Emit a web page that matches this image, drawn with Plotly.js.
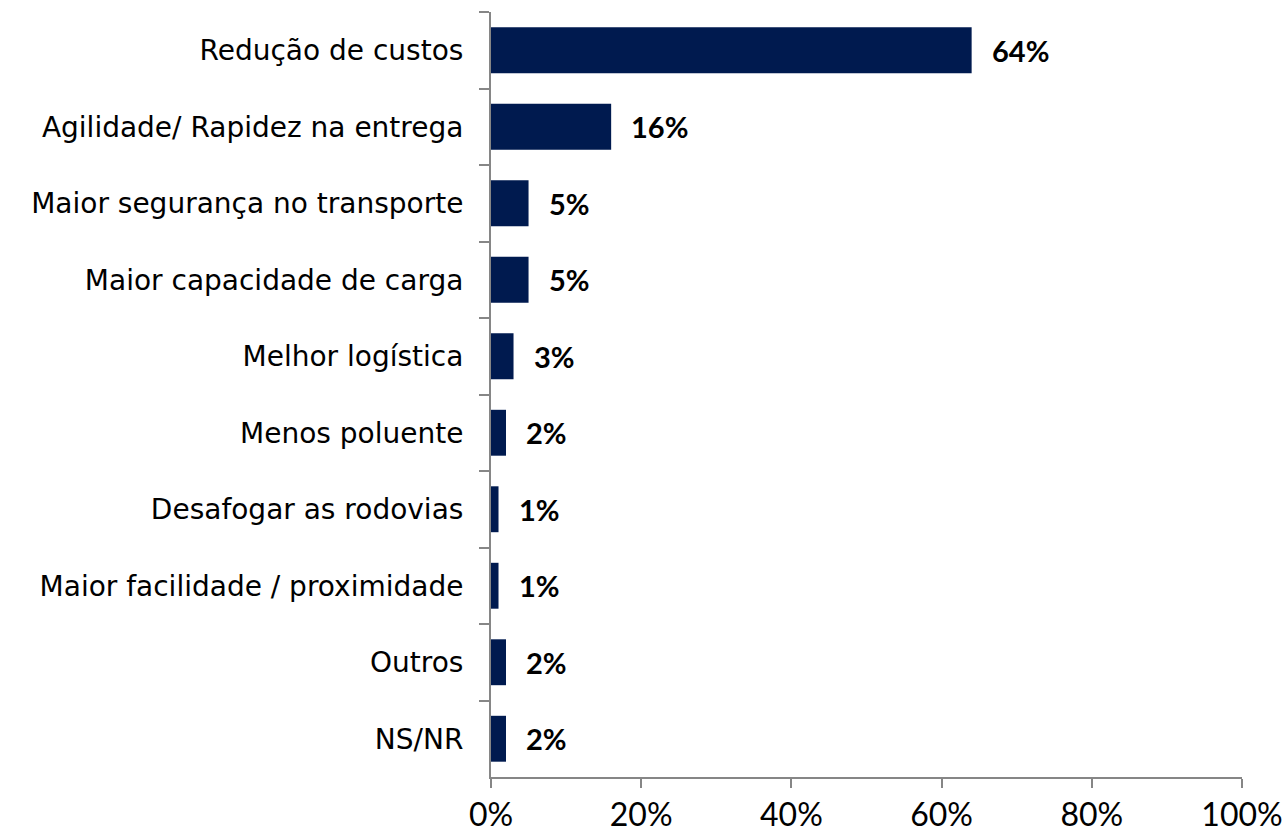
<!DOCTYPE html>
<html>
<head>
<meta charset="utf-8">
<script src="https://cdn.plot.ly/plotly-3.0.1.min.js"></script>
<style>html,body{margin:0;padding:0;background:#fff;}#chart{width:1283px;height:833px;}</style>
</head>
<body>
<div id="chart"></div>
<script>
const categories = [
  "Redução de custos",
  "Agilidade/ Rapidez na entrega",
  "Maior segurança no transporte",
  "Maior capacidade de carga",
  "Melhor logística",
  "Menos poluente",
  "Desafogar as rodovias",
  "Maior facilidade / proximidade",
  "Outros",
  "NS/NR"
];
const values = [64, 16, 5, 5, 3, 2, 1, 1, 2, 2];
const valueLabels = ["64%", "16%", "5%", "5%", "3%", "2%", "1%", "1%", "2%", "2%"];
const xTickVals = [0, 20, 40, 60, 80, 100];
const xTickText = ["0%", "20%", "40%", "60%", "80%", "100%"];

const trace = {
  type: "bar",
  orientation: "h",
  x: values,
  y: categories,
  marker: {color: "#001a4f"},
  hoverinfo: "none"
};

const annotations = categories.map((c, i) => ({
  x: values[i], y: c, xref: "x", yref: "y",
  text: "<b>" + valueLabels[i] + "</b>",
  showarrow: false, xanchor: "left", yanchor: "middle",
  xshift: 18,
  font: {family: "Lato", size: 29, color: "#000"}
}));

const layout = {
  width: 1283, height: 833,
  margin: {l: 491, r: 41, t: 12, b: 56, pad: 0},
  paper_bgcolor: "#fff", plot_bgcolor: "#fff",
  showlegend: false,
  bargap: 0.4,
  xaxis: {
    range: [0, 100], tickvals: xTickVals, ticktext: xTickText,
    showgrid: false, zeroline: false, showline: true, linecolor: "#868686", linewidth: 2,
    ticks: "outside", ticklen: 9, tickwidth: 2, tickcolor: "#868686",
    tickfont: {family: "Lato", size: 32, color: "#000"},
    fixedrange: true
  },
  yaxis: {
    type: "category", categoryorder: "array", categoryarray: categories,
    autorange: "reversed",
    showgrid: false, zeroline: false, showline: true, linecolor: "#868686", linewidth: 2,
    ticks: "outside", tickson: "boundaries", ticklen: 10, tickwidth: 2, tickcolor: "#868686",
    ticklabelstandoff: 20,
    tickfont: {family: "DejaVu Sans", size: 28, color: "#000"},
    fixedrange: true
  },
  annotations: annotations
};

Plotly.newPlot("chart", [trace], layout, {displayModeBar: false, staticPlot: true});
</script>
</body>
</html>
